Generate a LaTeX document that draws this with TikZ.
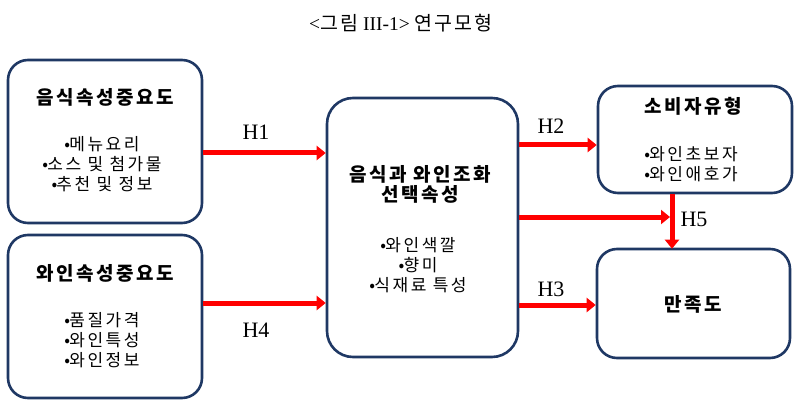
\documentclass[tikz,border=0pt]{standalone}
\usepackage{fontspec}
\setmainfont{Liberation Serif}
\newfontfamily\cjkt[LetterSpace=13]{Noto Sans CJK KR}
\newfontfamily\cjki[LetterSpace=15]{Noto Sans CJK KR}
\newfontfamily\cjkh[LetterSpace=11]{Noto Sans CJK KR}
\newcommand{\bul}{•\kern-0.8pt}
\usetikzlibrary{arrows.meta}
\definecolor{boxblue}{RGB}{31,56,100}
\definecolor{arrred}{RGB}{255,0,0}
\tikzset{
  box/.style={draw=boxblue, line width=2.6pt, rounded corners=20pt, fill=white},
  ttl/.style={font=\cjkt\bfseries\fontsize{19}{21}\selectfont, anchor=base, inner sep=0pt},
  itm/.style={font=\cjki\fontsize{17}{19}\selectfont, anchor=base, inner sep=0pt},
  hlab/.style={font=\fontsize{22}{24}\selectfont, anchor=base, inner sep=0pt},
  arr/.style={draw=arrred, line width=5pt, -{Triangle[length=9pt,width=14pt]}},
}
\begin{document}
\begin{tikzpicture}[x=1pt,y=-1pt]
\useasboundingbox (0,0) rectangle (800,406);
% title
\node[anchor=base, inner sep=0pt, font=\fontsize{19.5}{21}\selectfont] (title) at (401,31)
  {<{\cjkh 그림} III-1>\ {\cjkh 연구모형}};
% boxes
\node[box, minimum width=194pt, minimum height=163pt] (food) at (105,141.5) {};
\node[box, minimum width=194pt, minimum height=163pt] (wine) at (105,316.5) {};
\node[box, rounded corners=26pt, minimum width=191pt, minimum height=259pt] (mid) at (422.5,227.5) {};
\node[box, minimum width=194pt, minimum height=107pt] (cons) at (695,139.5) {};
\node[box, minimum width=193pt, minimum height=109pt] (sat) at (693.5,303.5) {};
% box texts
\node[ttl] (t1) at (105,105) {음식속성중요도};
\node[itm] (t1a) at (102,151) {\bul 메뉴요리};
\node[itm] (t1b) at (102,171) {\bul 소스 및 첨가물};
\node[itm] (t1c) at (102,191) {\bul 추천 및 정보};
\node[ttl] (t2) at (105,280) {와인속성중요도};
\node[itm] (t2a) at (102,326) {\bul 품질가격};
\node[itm] (t2b) at (102,346) {\bul 와인특성};
\node[itm] (t2c) at (102,366) {\bul 와인정보};
\node[ttl] (t3a) at (420,182) {음식과 와인조화};
\node[ttl] (t3b) at (420,202) {선택속성};
\node[itm] (t3c) at (418,251) {\bul 와인색깔};
\node[itm] (t3d) at (418,271) {\bul 향미};
\node[itm] (t3e) at (418,291) {\bul 식재료 특성};
\node[ttl] (t4) at (693,114) {소비자유형};
\node[itm] (t4a) at (691,161) {\bul 와인초보자};
\node[itm] (t4b) at (691,181) {\bul 와인애호가};
\node[ttl] (t5) at (693,311) {만족도};
% arrows
\coordinate (h5top) at (672,193);
\draw[arr] (food.east |- 0,153) -- (mid.west |- 0,153);
\draw[arr] (wine.east |- 0,303) -- (mid.west |- 0,303);
\draw[arr] (mid.east |- 0,145) -- (cons.west |- 0,145);
\draw[arr] (mid.east |- 0,305) -- (sat.west |- 0,305);
\draw[arr, shorten >=-1pt] (cons.south -| h5top) -- (sat.north -| h5top);
\coordinate (h5mid) at (670,217);
\draw[arr] (mid.east |- h5mid) -- (h5mid);
% labels
\node[hlab] (lh1) at (256,140) {H1};
\node[hlab] (lh4) at (256,337) {H4};
\node[hlab] (lh2) at (551,134) {H2};
\node[hlab] (lh3) at (551,296) {H3};
\node[hlab] (lh5) at (694,226) {H5};
\end{tikzpicture}
\end{document}
